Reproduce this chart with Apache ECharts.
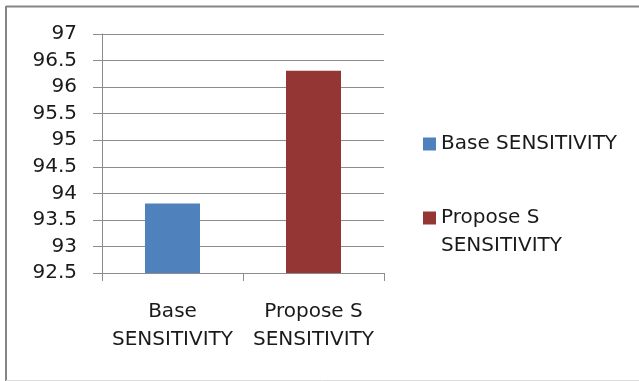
<!DOCTYPE html>
<html>
<head>
<meta charset="utf-8">
<script src="https://cdn.jsdelivr.net/npm/echarts@6/dist/echarts.min.js"></script>
<style>
  html, body { margin: 0; padding: 0; background: #fff; }
  #chart { width: 639px; height: 381px; }
</style>
</head>
<body>
<div id="chart"></div>
<script>
// Sensitivity comparison: base method vs. proposed method
var categories = ['Base SENSITIVITY', 'Propose S SENSITIVITY'];
var baseValues = [93.81, '-'];
var proposeValues = ['-', 96.31];
var yTicks = { min: 92.5, max: 97, step: 0.5 };

var FONT = 'DejaVu Sans';
var TEXT = '#1a1a1a';
var GRID = '#8c8c8c';

function wrapName(name) {
  return name.replace(/ SENSITIVITY$/, '\nSENSITIVITY');
}

// Legend swatch sitting at the top of a taller box, so a two-line label
// starts level with the swatch.
var TOP_SWATCH = 'path://M0,0h13v13h-13z M0,41h0.01v0h-0.01z';

var chart = echarts.init(document.getElementById('chart'), null, { renderer: 'canvas' });

chart.setOption({
  animation: false,
  backgroundColor: '#fff',
  textStyle: { fontFamily: FONT },
  grid: { left: 102, top: 34, right: 255, bottom: 108, containLabel: false },
  xAxis: {
    type: 'category',
    data: categories,
    axisLine: { lineStyle: { color: GRID, width: 1 } },
    axisTick: { show: true, length: 8, lineStyle: { color: GRID } },
    axisLabel: {
      interval: 0, hideOverlap: false,
      margin: 25,
      fontFamily: FONT, fontSize: 20, color: TEXT, lineHeight: 28,
      formatter: wrapName
    }
  },
  yAxis: {
    type: 'value',
    min: yTicks.min, max: yTicks.max, interval: yTicks.step,
    axisLine: { show: true, lineStyle: { color: GRID, width: 1 } },
    axisTick: { show: true, length: 9, lineStyle: { color: GRID } },
    splitLine: { show: true, lineStyle: { color: GRID, width: 1 } },
    axisLabel: { margin: 25, fontFamily: FONT, fontSize: 20, color: TEXT }
  },
  legend: [
    {
      data: [categories[0]],
      orient: 'vertical', left: 423, top: 130, padding: 0,
      itemWidth: 13, itemHeight: 13, itemGap: 0,
      icon: 'rect',
      textStyle: { fontFamily: FONT, fontSize: 20, color: TEXT, lineHeight: 28 }
    },
    {
      data: [categories[1]],
      orient: 'vertical', left: 423, top: 204, padding: 0,
      itemWidth: 13, itemHeight: 41, itemGap: 0,
      icon: TOP_SWATCH,
      formatter: wrapName,
      textStyle: { fontFamily: FONT, fontSize: 20, color: TEXT, lineHeight: 28 }
    }
  ],
  series: [
    {
      name: categories[0], type: 'bar', stack: 'all', barWidth: 55,
      itemStyle: { color: '#4f81bd' },
      data: baseValues
    },
    {
      name: categories[1], type: 'bar', stack: 'all', barWidth: 55,
      itemStyle: { color: '#943634' },
      data: proposeValues
    }
  ],
  graphic: [
    { type: 'line', silent: true, shape: { x1: 6, y1: 6.5, x2: 639, y2: 6.5 }, style: { stroke: '#858585', lineWidth: 2 } },
    { type: 'line', silent: true, shape: { x1: 6, y1: 6, x2: 6, y2: 381 }, style: { stroke: '#858585', lineWidth: 2 } },
    { type: 'line', silent: true, shape: { x1: 6, y1: 380.5, x2: 639, y2: 380.5 }, style: { stroke: '#dcdcdc', lineWidth: 1 } }
  ]
});
</script>
</body>
</html>
